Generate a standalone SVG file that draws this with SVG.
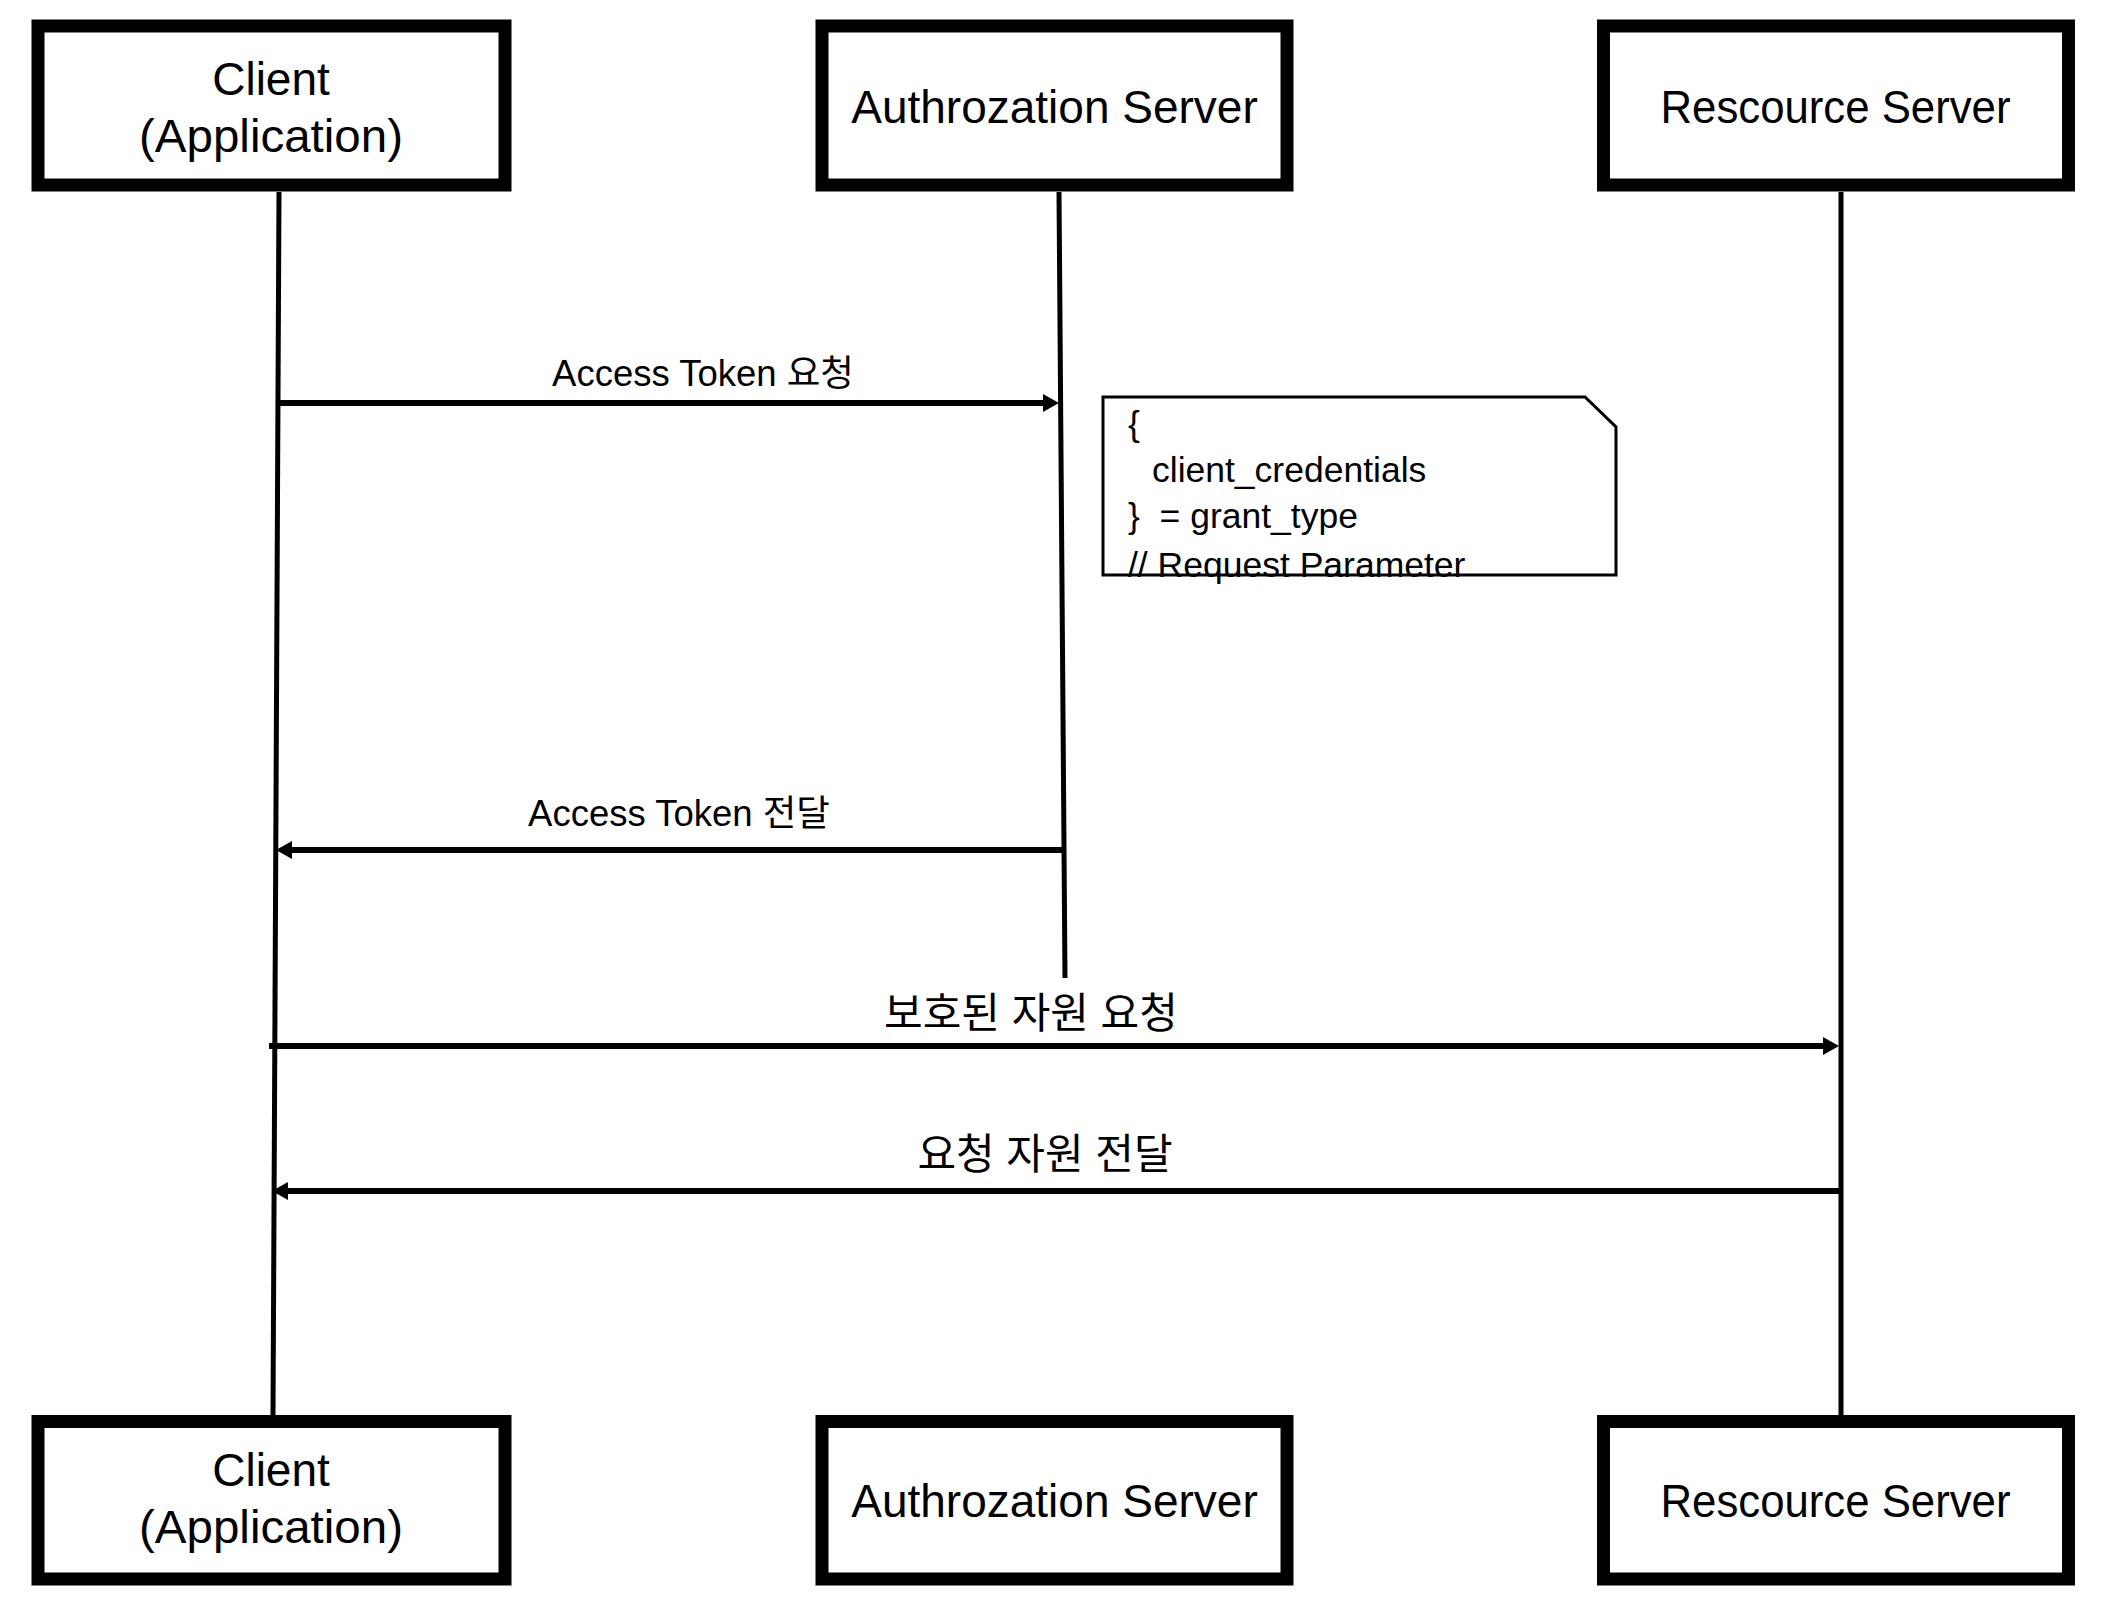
<svg xmlns="http://www.w3.org/2000/svg" width="2120" height="1602" viewBox="0 0 2120 1602">
  <style>
    .box { fill: #ffffff; stroke: #000000; stroke-width: 13; }
    .title { font-family: "Liberation Sans", "Noto Sans CJK KR", sans-serif; font-size: 46px; fill: #000000; text-anchor: middle; }
    .life { stroke: #000000; stroke-width: 5; fill: none; }
    .msg { stroke: #000000; stroke-width: 6; fill: none; marker-end: url(#ah); }
    .lbl { font-family: "Liberation Sans", "Noto Sans CJK KR", sans-serif; font-size: 36.5px; fill: #000000; text-anchor: middle; }
    .klbl { font-family: "Liberation Sans", "Noto Sans CJK KR", sans-serif; font-size: 42px; fill: #000000; text-anchor: middle; }
    .note { fill: #ffffff; stroke: #000000; stroke-width: 3; }
    .ntext { font-family: "Liberation Sans", "Noto Sans CJK KR", sans-serif; font-size: 35.5px; fill: #000000; white-space: pre; }
  </style>
  <defs>
    <marker id="ah" markerUnits="userSpaceOnUse" markerWidth="18" markerHeight="20" refX="8" refY="9" orient="auto">
      <path d="M0,0 L16,9 L0,18 Z" fill="#000000"/>
    </marker>
  </defs>
  <rect x="0" y="0" width="2120" height="1602" fill="#ffffff"/>

  <g id="lifelines">
    <line class="life" x1="279" y1="192" x2="273" y2="1415"/>
    <line class="life" x1="1059" y1="192" x2="1065" y2="978"/>
    <line class="life" x1="1841" y1="192" x2="1841" y2="1415"/>
  </g>

  <g id="client-top">
    <rect class="box" x="38" y="26" width="467" height="159"/>
    <text class="title" x="271" y="95">Client</text>
    <text class="title" x="271" y="152" textLength="264" lengthAdjust="spacingAndGlyphs">(Application)</text>
  </g>
  <g id="auth-top">
    <rect class="box" x="822" y="26" width="465" height="159"/>
    <text class="title" x="1054.5" y="123">Authrozation Server</text>
  </g>
  <g id="resource-top">
    <rect class="box" x="1603.5" y="26" width="465" height="159"/>
    <text class="title" x="1835.5" y="123" textLength="350" lengthAdjust="spacingAndGlyphs">Rescource Server</text>
  </g>

  <g id="client-bottom">
    <rect class="box" x="38" y="1421.5" width="467" height="157.5"/>
    <text class="title" x="271" y="1486">Client</text>
    <text class="title" x="271" y="1543" textLength="264" lengthAdjust="spacingAndGlyphs">(Application)</text>
  </g>
  <g id="auth-bottom">
    <rect class="box" x="822" y="1421.5" width="465" height="157.5"/>
    <text class="title" x="1054.5" y="1517">Authrozation Server</text>
  </g>
  <g id="resource-bottom">
    <rect class="box" x="1603.5" y="1421.5" width="465" height="157.5"/>
    <text class="title" x="1835.5" y="1517" textLength="350" lengthAdjust="spacingAndGlyphs">Rescource Server</text>
  </g>

  <g id="note">
    <path class="note" d="M1103,397 L1585,397 L1616,427 L1616,575 L1103,575 Z"/>
    <text class="ntext" x="1128" y="436">{</text>
    <text class="ntext" x="1152" y="482">client_credentials</text>
    <text class="ntext" x="1128" y="528">}  = grant_type</text>
    <text class="ntext" x="1128" y="577">// Request Parameter</text>
  </g>

  <g id="connectors">
    <line class="msg" x1="279" y1="403" x2="1051" y2="403"/>
    <text class="lbl" x="703" y="386">Access Token 요청</text>

    <line class="msg" x1="1064" y1="850" x2="284" y2="850"/>
    <text class="lbl" x="679" y="826">Access Token 전달</text>

    <line class="msg" x1="269" y1="1046" x2="1831" y2="1046"/>
    <text class="klbl" x="1031" y="1028">보호된 자원 요청</text>

    <line class="msg" x1="1841" y1="1191" x2="280" y2="1191"/>
    <text class="klbl" x="1045" y="1169">요청 자원 전달</text>
  </g>
</svg>
